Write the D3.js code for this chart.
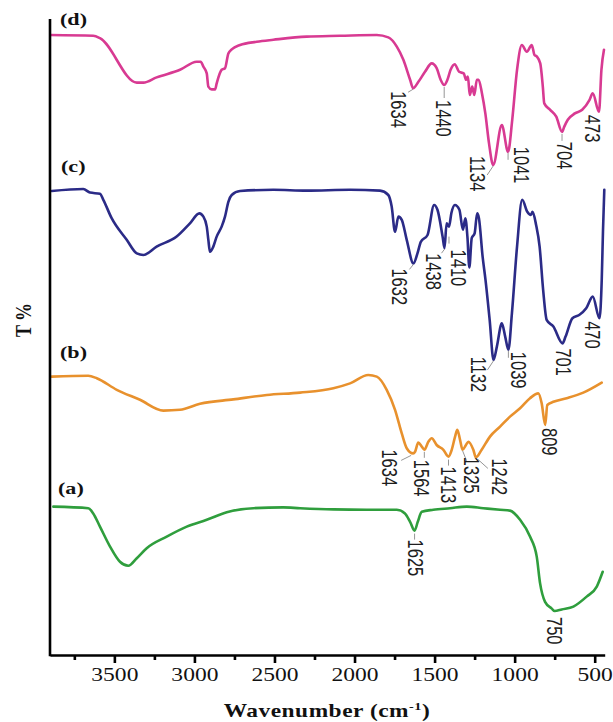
<!DOCTYPE html>
<html>
<head>
<meta charset="utf-8">
<script src="https://cdn.jsdelivr.net/npm/d3@7"></script>
<style>
  html, body { margin: 0; padding: 0; background: #ffffff; }
  svg { display: block; }
</style>
</head>
<body>
<div id="chart"></div>
<script>
// ---- Axis ticks (wavenumber, cm^-1) ----
const majorTicks = [3500, 3000, 2500, 2000, 1500, 1000, 500];
const minorTicks = [3750, 3250, 2750, 2250, 1750, 1250, 750];

// ---- FTIR spectra: [wavenumber, T %] (curves stacked with an offset) ----
const spectrumA = [
  [3881,37.1],[3663,36.7],[3632,35.4],[3590,32.1],[3527,27.1],[3465,23.3],[3413,22.3],[3360,24.2],
  [3298,26.7],[3173,29.6],[3048,32.1],[2923,33.8],[2798,35.7],[2632,36.7],[2445,36.9],[2340,36.7],
  [2132,36.4],[1924,36.3],[1736,36.3],[1685,35.4],[1653,33.3],[1625,31.1],[1605,33.3],[1580,35.8],
  [1508,36.3],[1404,36.7],[1299,37.1],[1196,36.7],[1091,36.3],[1029,36.1],[966,33.8],[904,29.6],
  [862,24.6],[841,17.9],[810,13.3],[768,11.6],[750,11.0],[706,11.4],[633,12.1],[550,14.6],
  [487,17.1],[450,20.8]
];
const spectrumB = [
  [3891,69.6],[3663,69.8],[3610,69.2],[3485,66.3],[3340,63.8],[3194,61.1],[3090,61.3],[2965,62.8],
  [2757,63.9],[2548,65.0],[2340,65.6],[2132,66.7],[2028,67.9],[1914,70.0],[1861,69.6],[1799,66.3],
  [1747,61.3],[1705,55.4],[1674,51.7],[1634,50.4],[1622,50.8],[1602,53.1],[1580,52.1],[1564,51.3],
  [1539,53.3],[1518,54.2],[1487,52.5],[1445,51.3],[1413,49.6],[1393,51.3],[1372,54.6],[1358,56.3],
  [1341,53.8],[1325,51.3],[1304,52.5],[1289,53.3],[1258,51.3],[1242,49.4],[1206,51.3],[1154,54.6],
  [1091,57.1],[1029,59.6],[966,61.7],[904,64.2],[852,65.4],[831,62.9],[809,57.5],[796,62.5],
  [758,63.3],[675,64.2],[571,65.6],[456,68.1]
];
const spectrumC = [
  [3891,116.0],[3694,116.5],[3652,115.6],[3590,115.3],[3569,113.8],[3517,109.2],[3423,103.8],[3360,100.4],
  [3319,100.0],[3236,102.1],[3111,104.6],[3028,107.9],[2969,110.4],[2944,109.6],[2923,107.1],[2913,103.8],
  [2903,100.8],[2882,102.1],[2861,104.6],[2830,107.1],[2809,109.6],[2788,113.3],[2767,115.0],[2715,116.0],
  [2507,116.3],[2299,116.1],[2028,116.3],[1841,116.1],[1789,115.0],[1768,112.1],[1747,105.8],[1726,109.6],
  [1705,108.8],[1674,103.8],[1632,97.9],[1607,100.4],[1586,103.3],[1544,105.0],[1503,112.5],[1482,111.3],
  [1450,104.6],[1438,101.7],[1425,107.9],[1410,107.1],[1395,110.5],[1373,112.5],[1345,111.3],[1323,106.3],
  [1308,109.2],[1295,104.6],[1283,96.9],[1268,104.2],[1250,105.4],[1234,110.4],[1223,109.2],[1200,99.6],
  [1182,93.8],[1156,83.8],[1132,73.8],[1111,77.1],[1080,82.9],[1059,79.6],[1039,76.3],[1017,85.4],
  [985,102.1],[953,113.8],[921,110.8],[899,110.0],[888,110.8],[866,107.5],[844,102.1],[822,91.3],
  [800,83.8],[758,82.1],[701,77.9],[682,79.6],[639,84.2],[597,85.0],[553,86.7],[512,89.6],
  [470,84.2],[456,93.8],[448,106.3],[440,116.3]
];
const spectrumD = [
  [3900,155.0],[3632,154.8],[3590,154.2],[3360,143.1],[3319,143.1],[3236,144.4],[3090,146.3],[2986,148.3],
  [2961,148.3],[2944,147.1],[2923,145.4],[2913,142.1],[2892,141.4],[2871,141.4],[2861,142.9],[2830,146.3],
  [2809,146.7],[2788,150.4],[2767,151.4],[2715,152.5],[2611,153.3],[2507,153.8],[2299,154.6],[2091,154.8],
  [1861,155.0],[1789,154.4],[1736,152.1],[1695,148.8],[1653,143.8],[1634,141.7],[1601,143.3],[1560,145.8],
  [1518,147.9],[1487,146.7],[1462,143.8],[1440,142.5],[1420,143.8],[1400,146.3],[1374,147.7],[1347,145.8],
  [1318,145.4],[1303,143.8],[1292,144.6],[1280,140.0],[1265,142.1],[1252,140.0],[1236,143.8],[1225,143.8],
  [1204,140.4],[1183,135.4],[1160,127.9],[1134,122.5],[1080,132.5],[1041,125.8],[1015,133.8],[985,146.3],
  [955,152.5],[924,150.8],[893,152.5],[876,150.0],[861,149.6],[840,147.9],[824,142.1],[815,137.9],
  [778,136.3],[740,134.6],[704,130.8],[690,132.1],[668,133.8],[624,135.4],[578,136.3],[532,138.8],
  [512,140.4],[473,135.8],[458,146.3],[442,151.3]
];

// ---- Sample names and labelled band positions ----
const sampleNames = ["(a)", "(b)", "(c)", "(d)"];
const sampleColors = ["#2f9e3d", "#e8912d", "#2b2b87", "#d83a92"];
const peaksA = [1625, 750];
const peaksB = [1634, 1564, 1413, 1325, 1242, 809];
const peaksC = [1632, 1438, 1410, 1132, 1039, 701, 470];
const peaksD = [1634, 1440, 1134, 1041, 704, 473];

// ---- Layout ----
const W = 613, H = 722;
const plot = { left: 50, right: 604.7, top: 19, bottom: 655 };
const textStretch = 1.3;   // horizontal stretch of the lettering
const labelStretch = 1.35;

// Label offsets from the band minimum: [dx, dy] of the label, and an optional leader [x1,y1,x2,y2]
const peakLabelLayout = [
  [ [1, 9, 0, 3, 0, 9], [0, 6] ],
  [ [-23, -4, -2, 2, -12, 7], [-2, 10, 0, 2, 0, 8], [1, 10, 0, 3, 0, 9], [9, 7, 0, 1, 4, 11],
    [24, 1, 2, 2, 12, 11], [5, 3] ],
  [ [-13, 5, 0, 1, -4, 6], [-10, 5, 0, 1, -3, 5], [10, 23, 0, 10, 0, 17], [-14.5, -3, 0, 1, -6, 10],
    [11, 2, 0, 1, 0, 8], [2, 5], [-6.5, 3] ],
  [ [-14, 3, 0, 1, -5, 4], [0, 15, 0, 2, 0, 13], [-15, -9, 0, 1, -6, 10], [14, -5, 0, 1, 0, 8],
    [3, 10, 0, 2, 0, 9], [-6, 3] ]
];
const sampleLabelPos = [[58, 494], [60, 358], [61, 172], [60, 25]];

const spectra = [spectrumA, spectrumB, spectrumC, spectrumD];
const peaks = [peaksA, peaksB, peaksC, peaksD];

const x = d3.scaleLinear().domain([3902, 437.5]).range([plot.left, plot.right]);
const y = d3.scaleLinear().domain([0, 159]).range([plot.bottom, plot.top]);

const svg = d3.select("#chart").append("svg")
  .attr("width", W).attr("height", H)
  .attr("viewBox", `0 0 ${W} ${H}`);
svg.append("rect").attr("width", W).attr("height", H).attr("fill", "#ffffff");

const serif = "'Liberation Serif', 'Times New Roman', Times, serif";
const sans = "'Liberation Sans', Arial, Helvetica, sans-serif";

// ---- Spectra ----
const line = d3.line()
  .x(d => x(d[0]))
  .y(d => y(d[1]))
  .curve(d3.curveMonotoneX);

svg.append("g").selectAll("path")
  .data(spectra)
  .join("path")
  .attr("d", line)
  .attr("fill", "none")
  .attr("stroke", (d, i) => sampleColors[i])
  .attr("stroke-width", 2.6)
  .attr("stroke-linejoin", "round")
  .attr("stroke-linecap", "round");

// ---- Band labels with leader lines ----
const labelLayer = svg.append("g");
spectra.forEach((data, si) => {
  peaks[si].forEach((wn, pi) => {
    const pt = data.find(d => d[0] === wn);
    const px = x(wn), py = y(pt[1]);
    const L = peakLabelLayout[si][pi];
    if (L.length > 2) {
      labelLayer.append("line")
        .attr("x1", px + L[2]).attr("y1", py + L[3])
        .attr("x2", px + L[4]).attr("y2", py + L[5])
        .attr("stroke", "#8a8a8a").attr("stroke-width", 0.9);
    }
    labelLayer.append("text")
      .attr("transform", `translate(${px + L[0]},${py + L[1]}) scale(${labelStretch},1) rotate(90)`)
      .attr("dy", "0.36em")
      .attr("font-family", sans)
      .attr("font-size", 16.5)
      .attr("fill", "#1e1e1e")
      .text(wn);
  });
});

// ---- Sample names ----
svg.append("g").selectAll("text")
  .data(sampleNames)
  .join("text")
  .attr("transform", (d, i) => `translate(${sampleLabelPos[i][0]},${sampleLabelPos[i][1]}) scale(${textStretch},1)`)
  .attr("font-family", serif)
  .attr("font-weight", "bold")
  .attr("font-size", 17)
  .attr("fill", "#111")
  .text(d => d);

// ---- Axes ----
svg.append("line")
  .attr("x1", plot.left).attr("x2", plot.left)
  .attr("y1", plot.top).attr("y2", plot.bottom + 1.2)
  .attr("stroke", "#000").attr("stroke-width", 2.6);

const xAxis = svg.append("g")
  .attr("transform", `translate(0,${plot.bottom})`)
  .call(d3.axisBottom(x).tickValues(majorTicks).tickSize(8).tickSizeOuter(0).tickFormat(d3.format("d")));
xAxis.select(".domain").attr("stroke", "#000").attr("stroke-width", 2.6);
xAxis.selectAll(".tick line").attr("stroke", "#000").attr("stroke-width", 2.6);
xAxis.selectAll(".tick text")
  .attr("y", 13)
  .attr("dy", "0.71em")
  .attr("transform", `scale(${textStretch - 0.06},1)`)
  .attr("font-family", serif)
  .attr("font-size", 19)
  .attr("fill", "#111");

const xMinor = svg.append("g")
  .attr("transform", `translate(0,${plot.bottom})`)
  .call(d3.axisBottom(x).tickValues(minorTicks).tickSize(5).tickSizeOuter(0).tickFormat(""));
xMinor.select(".domain").remove();
xMinor.selectAll(".tick line").attr("stroke", "#000").attr("stroke-width", 2.6);

// ---- Axis titles ----
const xTitle = svg.append("text")
  .attr("transform", `translate(327,717) scale(${textStretch},1)`)
  .attr("text-anchor", "middle")
  .attr("font-family", serif)
  .attr("font-weight", "bold")
  .attr("font-size", 18)
  .attr("letter-spacing", 0.4)
  .attr("fill", "#111");
xTitle.append("tspan").text("Wavenumber (cm");
xTitle.append("tspan").attr("dy", -7).attr("font-size", 11).text("-1");
xTitle.append("tspan").attr("dy", 7).text(")");

svg.append("text")
  .attr("transform", `translate(23,320) scale(${textStretch},1) rotate(-90)`)
  .attr("text-anchor", "middle")
  .attr("dy", "0.35em")
  .attr("font-family", serif)
  .attr("font-weight", "bold")
  .attr("font-size", 18)
  .attr("fill", "#111")
  .text("T %");
</script>
</body>
</html>
